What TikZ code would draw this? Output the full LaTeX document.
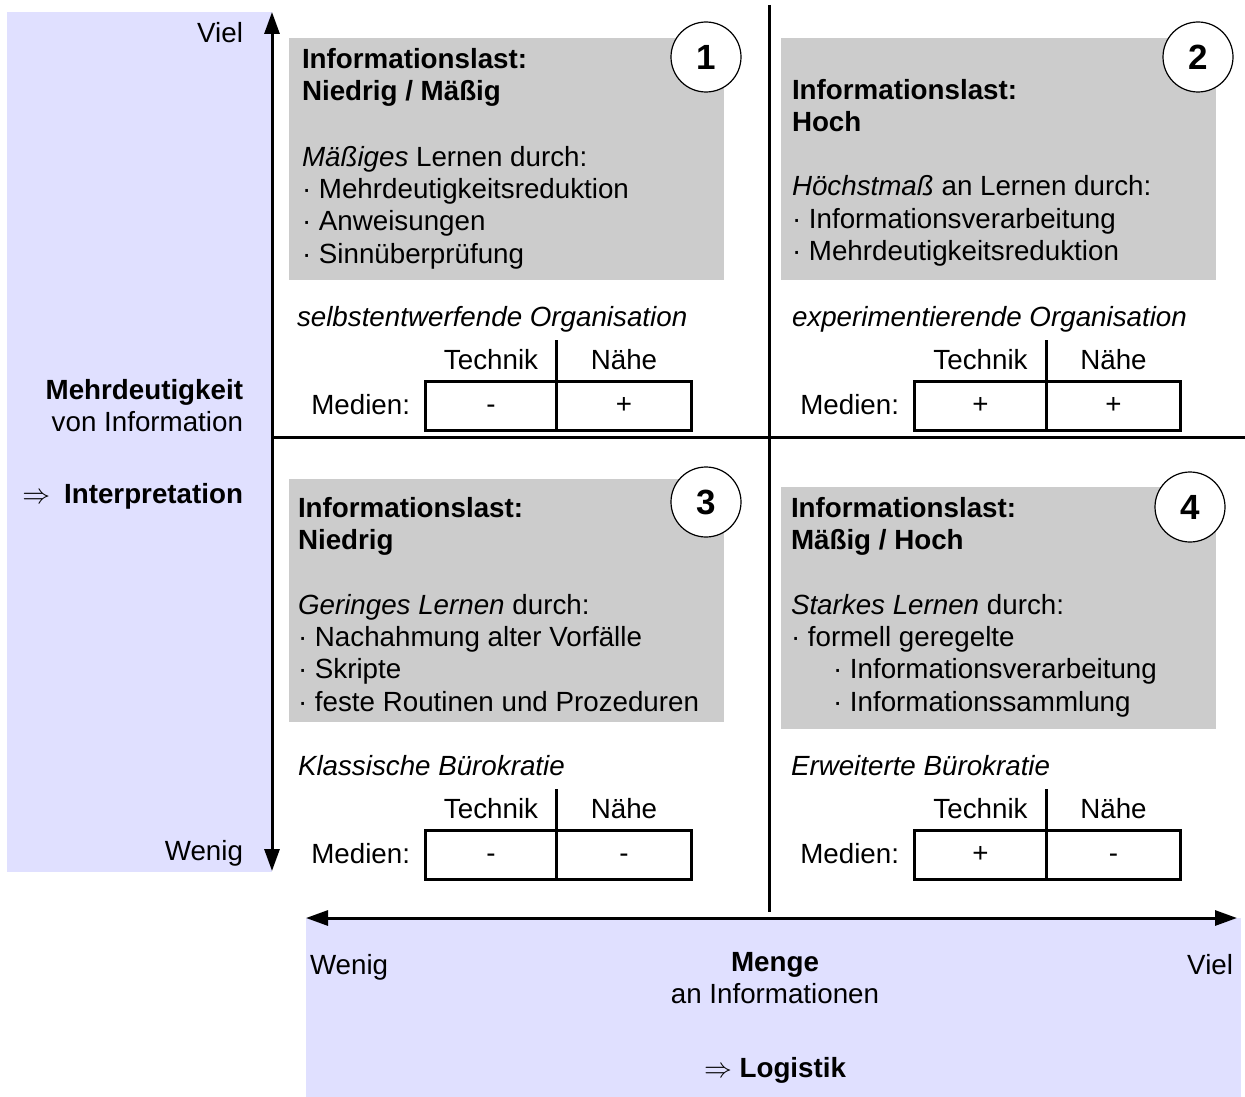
\documentclass[tikz,border=0pt]{standalone}
\usepackage{fontspec}
\setmainfont{Liberation Sans}
\usetikzlibrary{arrows.meta,positioning}
\definecolor{panelgray}{HTML}{CCCCCC}
\definecolor{axisblue}{HTML}{E0E0FF}
\tikzset{
  every node/.style={inner sep=0pt, outer sep=0pt},
  axispanel/.style={fill=axisblue, draw=none, anchor=north west},
  quad/.style={fill=panelgray, draw=none, anchor=north west, minimum width=435pt},
  quadtext/.style={anchor=north west, align=left},
  num/.style={circle, draw=black, line width=1.2pt, fill=white, minimum size=70pt, font=\fontsize{35}{40}\selectfont\bfseries},
  cell/.style={draw=black, line width=3pt, minimum height=49pt, text height=20pt, text depth=6pt, anchor=west},
  sepline/.style={line width=2.5pt},
  divider/.style={line width=3pt},
  axisarrow/.style={{Triangle[length=22pt,width=15pt]}-{Triangle[length=22pt,width=15pt]}, line width=3pt}
}

\begin{document}
\begin{tikzpicture}[x=1pt,y=-1pt,font=\fontsize{27.75}{32.3}\selectfont]
\useasboundingbox (0,0) rectangle (1245,1097);

% Axis panels
\node[axispanel, minimum width=265pt, minimum height=860pt] (ambig) at (7,12) {};
\node[axispanel, minimum width=935pt, minimum height=179pt] (amount) at (306,918) {};

% Quadrant panels
\node[quad, minimum height=242pt] (q1) at (289,38) {};
\node[quad, minimum height=242pt] (q2) at (781,38) {};
\node[quad, minimum height=243pt] (q3) at (289,479) {};
\node[quad, minimum height=242pt] (q4) at (781,487) {};

\node[num] (n1) at (706,57) {1};
\node[num] (n2) at (1198,57) {2};
\node[num] (n3) at (706,502) {3};
\node[num] (n4) at (1190,507) {4};

\node[quadtext] (q1txt) at (302,48) {\textbf{Informationslast:}\\\textbf{Niedrig / Mäßig}\\[33.5pt]\textit{Mäßiges} Lernen durch:\\· Mehrdeutigkeitsreduktion\\· Anweisungen\\· Sinnüberprüfung};
\node[quadtext] (q2txt) at (792,79) {\textbf{Informationslast:}\\\textbf{Hoch}\\[32pt]\textit{Höchstmaß} an Lernen durch:\\· Informationsverarbeitung\\· Mehrdeutigkeitsreduktion};
\node[quadtext] (q3txt) at (298,497) {\textbf{Informationslast:}\\\textbf{Niedrig}\\[32.5pt]\textit{Geringes Lernen} durch:\\· Nachahmung alter Vorfälle\\· Skripte\\· feste Routinen und Prozeduren};
\node[quadtext] (q4txt) at (791,497) {\textbf{Informationslast:}\\\textbf{Mäßig / Hoch}\\[32.5pt]\textit{Starkes Lernen} durch:\\· formell geregelte\\\hspace*{42pt}· Informationsverarbeitung\\\hspace*{42pt}· Informationssammlung};

% Organisation types
\node[anchor=base west] (org1) at (297,326) {\textit{selbstentwerfende Organisation}};
\node[anchor=base west] (org2) at (792,326) {\textit{experimentierende Organisation}};
\node[anchor=base west] (org3) at (298,775) {\textit{Klassische Bürokratie}};
\node[anchor=base west] (org4) at (791,775) {\textit{Erweiterte Bürokratie}};

% Media tables
\node[cell, minimum width=131pt] (t1tech) at (425.5,406) {-};
\node[cell, minimum width=135pt] (t1near) at (t1tech.east) {+};
\node[cell, minimum width=132pt] (t2tech) at (914.5,406) {+};
\node[cell, minimum width=134pt] (t2near) at (t2tech.east) {+};
\node[cell, minimum width=131pt] (t3tech) at (425.5,855) {-};
\node[cell, minimum width=135pt] (t3near) at (t3tech.east) {-};
\node[cell, minimum width=132pt] (t4tech) at (914.5,855) {+};
\node[cell, minimum width=134pt] (t4near) at (t4tech.east) {-};

\foreach \t in {t1,t2,t3,t4}{
  \node[above=11.5pt of \t tech] (\t techlabel) {Technik};
  \node[above=11.5pt of \t near] (\t nearlabel) {Nähe};
  \draw[sepline] (\t tech.north east) -- ++(0,-42);
}

\node[anchor=base east] (t1media) at (410,414) {Medien:};
\node[anchor=base east] (t2media) at (899,414) {Medien:};
\node[anchor=base east] (t3media) at (410,863) {Medien:};
\node[anchor=base east] (t4media) at (899,863) {Medien:};

% Dividers
\coordinate (vtop) at (769,5);
\coordinate (vbot) at (769,912);
\coordinate (hleft) at (272,437);
\coordinate (hright) at (1245,437);
\draw[divider] (vtop) -- (vbot);
\draw[divider] (hleft) -- (hright);

% Axes
\coordinate (ytop) at (272,12);
\coordinate (ybot) at (272,871);
\coordinate (xleft) at (306,918);
\coordinate (xright) at (1237,918);
\draw[axisarrow] (ybot) -- (ytop);
\draw[axisarrow] (xleft) -- (xright);

\node[anchor=base east] (yhigh) at (243,43) {Viel};
\node[anchor=north east, align=right] (ylabel) at (243,379) {\textbf{Mehrdeutigkeit}\\von Information};
\node[anchor=base east] (yresult) at (243,503) {\scalebox{1.12}{$\Rightarrow$}\hspace{14pt}\textbf{Interpretation}};
\node[anchor=base east] (ylow) at (243,860) {Wenig};

\node[anchor=base west] (xlow) at (310,974) {Wenig};
\node[anchor=north, align=center] (xlabel) at (775,952) {\textbf{Menge}\\an Informationen};
\node[anchor=base] (xresult) at (775,1077) {\scalebox{1.12}{$\Rightarrow$} \textbf{Logistik}};
\node[anchor=base east] (xhigh) at (1233,974) {Viel};

\end{tikzpicture}
\end{document}
